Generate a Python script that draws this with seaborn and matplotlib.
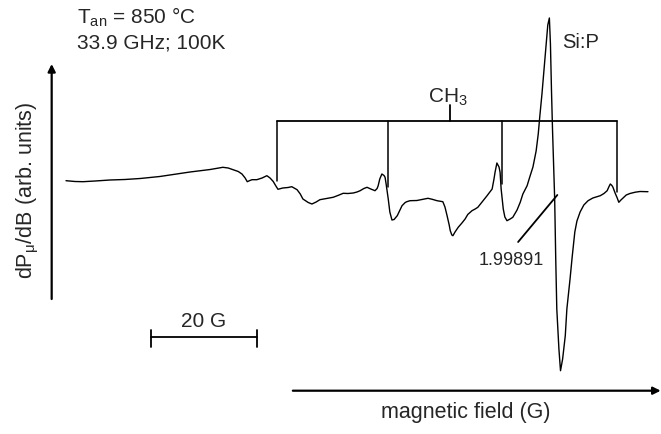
"""Q-band EPR spectrum: CH3 hyperfine quartet next to the Si:P line."""

import matplotlib

matplotlib.use("Agg")
import matplotlib.pyplot as plt
import pandas as pd
import seaborn as sns

# spectrum: field offset (G) and derivative signal (arb. units)
field_G = [
    0.0, 1.7, 3.2, 5.5, 8.3, 11.1, 14.0, 15.8, 17.7, 19.6, 21.5, 23.4, 25.3, 27.2,
    29.6, 30.6, 31.5, 32.5, 33.2, 33.8, 34.2, 34.7, 35.1, 36.0, 37.0, 37.9, 38.5,
    39.1, 39.6, 40.0, 40.9, 41.9, 42.6, 43.6, 44.2, 44.7, 45.7, 46.4, 47.2, 47.9,
    49.1, 50.4, 51.3, 52.3, 53.2, 54.2, 54.9, 55.5, 56.2, 56.8, 57.5, 58.3, 58.7,
    58.9, 59.2, 59.6, 60.0, 60.2, 60.4, 60.8, 61.1, 61.5, 61.9, 62.5, 63.0, 63.4,
    64.0, 64.3, 64.9, 66.2, 67.2, 68.3, 69.1, 70.0, 71.1, 71.5, 71.9, 72.3, 72.5,
    72.8, 73.0, 73.4, 74.0, 74.7, 75.3, 75.8, 76.6, 77.2, 77.7, 78.5, 79.4, 80.4,
    80.75, 80.95, 81.3, 81.7, 81.9, 82.1, 82.5, 82.8, 83.2, 83.8, 84.3, 85.1, 85.7,
    86.2, 87.0, 87.5, 88.1, 88.7, 89.1, 89.4, 89.8, 90.2, 90.6, 90.9, 91.2, 91.4,
    91.6, 91.8, 92.0, 92.2, 92.4, 92.6, 93.0, 93.3, 93.7, 94.2, 94.5, 95.1, 95.5,
    96.0, 96.4, 97.0, 97.7, 98.5, 99.4, 100.8, 101.5, 102.1, 102.5, 102.7, 103.0,
    103.2, 103.6, 104.0, 104.3, 104.7, 105.1, 105.7, 106.4, 107.4, 108.3, 109.8,
]
signal = [
    0.03, -0.05, -0.07, 0.0, 0.1, 0.15, 0.25, 0.35, 0.45, 0.6, 0.75, 0.9, 1.03, 1.15,
    1.37, 1.3, 1.13, 0.95, 0.7, 0.3, -0.07, 0.05, 0.13, 0.13, 0.3, 0.53, 0.3,
    -0.05, -0.5, -0.83, -0.7, -0.65, -0.57, -0.87, -1.3, -1.8, -2.15, -2.3, -2.1, -1.87,
    -1.75, -1.63, -1.45, -1.23, -1.25, -1.2, -1.1, -0.97, -0.75, -0.63, -0.8, -0.97, -0.75,
    -0.47, 0.2, 0.7, 0.55, 0.37, -0.3, -1.8, -3.1, -3.9, -3.85, -3.47, -2.9, -2.47,
    -2.15, -2.07, -1.97, -1.95, -1.85, -1.73, -1.83, -1.97, -2.07, -2.6, -3.47, -4.4, -4.97,
    -5.4, -5.47, -5.1, -4.63, -4.2, -3.8, -3.35, -2.97, -2.8, -2.63, -2.1, -1.5, -0.8,
    0.2, 0.87, 1.8, 1.4, 0.87, -0.8, -2.8, -3.6, -3.97, -3.8, -3.63, -2.9, -2.13,
    -1.3, -0.47, 0.4, 1.4, 3.0, 4.7, 6.5, 8.7, 11.2, 13.7, 15.6, 16.3, 13.7,
    9.0, 5.0, 1.5, -1.8, -7.8, -12.8, -16.8, -18.97, -17.8, -15.47, -12.8, -9.8, -7.6,
    -5.1, -4.0, -3.1, -2.4, -1.97, -1.7, -1.47, -1.25, -0.97, -0.5, -0.3, -0.45,
    -0.63, -1.2, -1.7, -2.13, -1.9, -1.7, -1.4, -1.25, -1.12, -1.05, -1.07,
]

# CH3 quartet stick positions (G) and where each stick ends on the trace
ch3_lines_G = [39.75, 60.8, 82.3, 103.9]
ch3_stick_ends = [0.03, -0.63, -0.3, -1.1]

header_lines = ["T$_{\\mathrm{an}}$ = 850 °C", "33.9 GHz; 100K"]
g_label = "1.99891"
scale_bar_G = 20


def setup_style() -> None:
    sns.set_theme(style="white")
    plt.rcParams["font.family"] = ["Liberation Sans", "DejaVu Sans"]
    plt.rcParams["mathtext.fontset"] = "custom"
    plt.rcParams["mathtext.rm"] = "Liberation Sans"
    plt.rcParams["mathtext.it"] = "Liberation Sans:italic"
    plt.rcParams["mathtext.bf"] = "Liberation Sans:bold"


def main() -> None:
    setup_style()
    df = pd.DataFrame({"field": field_G, "signal": signal})

    fig = plt.figure(figsize=(6.61, 4.35), dpi=100)
    ax = fig.add_axes([0, 0, 1, 1])
    ax.set_xlim(-12.45, 112.26)
    ax.set_ylim(-25.3, 18.2)
    ax.axis("off")

    sns.lineplot(data=df, x="field", y="signal", sort=False, estimator=None,
                 color="black", linewidth=1.0, ax=ax)

    # stick diagram for the CH3 quartet
    bar_y = 6.03
    for pos, end in zip(ch3_lines_G, ch3_stick_ends):
        ax.plot([pos, pos], [bar_y, end], color="black", lw=1.1)
    ax.plot([ch3_lines_G[0], ch3_lines_G[-1]], [bar_y, bar_y], color="black", lw=1.3)
    ax.plot([72.4, 72.4], [bar_y, 7.6], color="black", lw=1.3)
    ax.text(72.1, 7.93, "CH$_3$", ha="center", va="baseline", fontsize=15)

    ax.text(93.6, 13.4, "Si:P", ha="left", va="baseline", fontsize=14.5)

    # g-value marker
    ax.plot([85.3, 92.7], [-6.1, -1.4], color="black", lw=1.3)
    ax.text(84.05, -8.3, g_label, ha="center", va="baseline", fontsize=13)

    # header
    ax.text(2.08, 15.8, header_lines[0], ha="left", va="baseline", fontsize=15)
    ax.text(2.08, 13.37, header_lines[1], ha="left", va="baseline", fontsize=15)

    # field scale bar
    bar_x0 = 15.98
    ax.plot([bar_x0, bar_x0 + scale_bar_G], [-15.63, -15.63], color="black", lw=1.3)
    for x in (bar_x0, bar_x0 + scale_bar_G):
        ax.plot([x, x], [-14.87, -16.6], color="black", lw=1.3)
    ax.text(bar_x0 + scale_bar_G / 2, -14.53, f"{scale_bar_G} G",
            ha="center", va="baseline", fontsize=15)

    # axis arrows
    arrow = dict(arrowstyle="-|>", color="black", lw=1.6, mutation_scale=11,
                 shrinkA=0, shrinkB=0)
    ax.annotate("", xy=(-2.7, 11.7), xytext=(-2.7, -11.8), arrowprops=arrow,
                annotation_clip=False)
    ax.annotate("", xy=(112.2, -20.97), xytext=(42.8, -20.97), arrowprops=arrow,
                annotation_clip=False)

    ax.text(-7.2, -0.8, "dP$_{\\mathrm{μ}}$/dB (arb. units)", rotation=90,
            ha="center", va="center", fontsize=15.5)
    ax.text(75.4, -23.6, "magnetic field (G)", ha="center", va="baseline",
            fontsize=15.5)

    fig.savefig("out.png", dpi=100)
    plt.close(fig)


if __name__ == "__main__":
    main()
